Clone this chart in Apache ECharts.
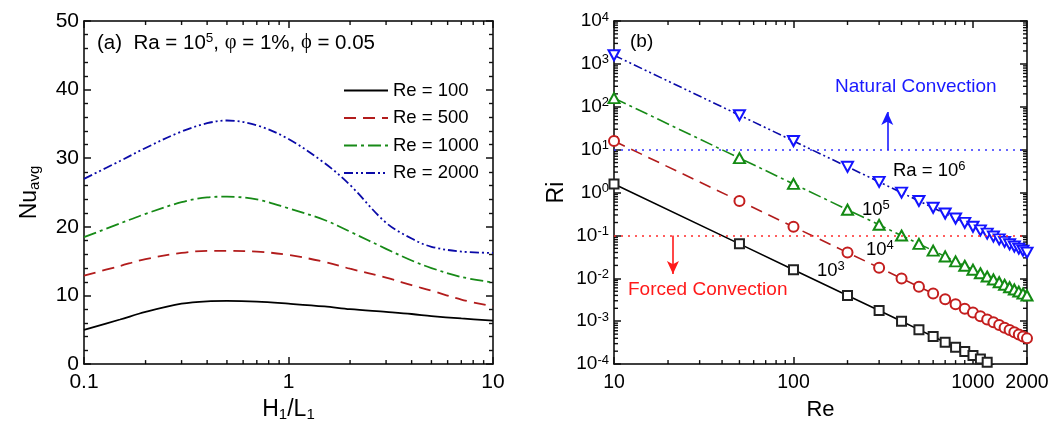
<!DOCTYPE html>
<html><head><meta charset="utf-8">
<script src="https://cdn.jsdelivr.net/npm/echarts@6/dist/echarts.min.js"></script>
<style>html,body{margin:0;padding:0;background:#fff}#c{width:1056px;height:427px}</style>
</head><body><div id="c"></div>
<script>
// ---------- Panel (a) data ----------
const ratioH1L1 = [0.1, 0.15, 0.2, 0.3, 0.4, 0.5, 0.7, 1, 1.5, 2, 3, 4, 5, 7, 10];
const nuRe100  = [5.0, 6.5, 7.6, 8.8, 9.15, 9.2, 9.1, 8.8, 8.4, 8.0, 7.6, 7.3, 7.0, 6.65, 6.35];
const nuRe500  = [12.9, 14.3, 15.3, 16.2, 16.5, 16.5, 16.4, 15.9, 14.9, 13.9, 12.6, 11.5, 10.7, 9.4, 8.4];
const nuRe1000 = [18.5, 20.5, 21.9, 23.6, 24.3, 24.4, 24.0, 22.7, 21.0, 19.3, 16.8, 15.1, 14.0, 12.7, 11.9];
const nuRe2000 = [27.0, 29.6, 31.5, 33.9, 35.1, 35.5, 34.8, 32.8, 29.3, 26.1, 20.6, 18.3, 17.1, 16.4, 16.2];
const legendNames = ['Re = 100', 'Re = 500', 'Re = 1000', 'Re = 2000'];

// ---------- Panel (b) data ----------
const reValues = [10, 50, 100, 200, 300, 400, 500, 600, 700, 800, 900, 1000, 1100, 1200, 1300, 1400, 1500, 1600, 1700, 1800, 1900, 2000];
const riRa1e3 = [1.59, 0.0636, 0.0159, 0.00398, 0.00177, 0.000994, 0.000636, 0.000442, 0.000324, 0.000248, 0.000196, 0.000159, 0.000131, 0.000110, 0.0000941, 0.0000811, 0.0000707, 0.0000621, 0.0000550, 0.0000491, 0.0000440, 0.0000398];
const riRa1e4 = [15.9, 0.636, 0.159, 0.0398, 0.0177, 0.00994, 0.00636, 0.00442, 0.00324, 0.00248, 0.00196, 0.00159, 0.00131, 0.00110, 0.000941, 0.000811, 0.000707, 0.000621, 0.000550, 0.000491, 0.000440, 0.000398];
const riRa1e5 = [159, 6.36, 1.59, 0.398, 0.177, 0.0994, 0.0636, 0.0442, 0.0324, 0.0248, 0.0196, 0.0159, 0.0131, 0.0110, 0.00941, 0.00811, 0.00707, 0.00621, 0.00550, 0.00491, 0.00440, 0.00398];
const riRa1e6 = [1590, 63.6, 15.9, 3.98, 1.77, 0.994, 0.636, 0.442, 0.324, 0.248, 0.196, 0.159, 0.131, 0.110, 0.0941, 0.0811, 0.0707, 0.0621, 0.0550, 0.0491, 0.0440, 0.0398];
const riThresholdNatural = 10;
const riThresholdForced = 0.1;
const arrowNatural = [[333, 10], [333, 76]];
const arrowForced = [[21.3, 0.1], [21.3, 0.0126]];

// ---------- tick labels ----------
const leftXTickLabels = [0.1, 1, 10];
const leftYTickLabels = [0, 10, 20, 30, 40, 50];
const rightXTickLabels = [10, 100, 1000, 2000];
const rightYTickExponents = [-4, -3, -2, -1, 0, 1, 2, 3, 4];
const minorLeftX = [0.2, 0.3, 0.4, 0.5, 0.6, 0.7, 0.8, 0.9, 2, 3, 4, 5, 6, 7, 8, 9];
const minorRightX = [20, 30, 40, 50, 60, 70, 80, 90, 200, 300, 400, 500, 600, 700, 800, 900];
const minorRightY = [];
rightYTickExponents.slice(0, -1).forEach(e => { for (let m = 2; m <= 9; m++) minorRightY.push(+(m * Math.pow(10, e)).toPrecision(3)); });

const FONT = '"Liberation Sans", Arial, sans-serif';
const SERIF = '"Liberation Serif", "DejaVu Serif", serif';
const chart = echarts.init(document.getElementById('c'));

const tickRich = {
  b: {fontSize: 19, lineHeight: 21, fontFamily: FONT, color: '#000'},
  s: {fontSize: 13, lineHeight: 13, verticalAlign: 'top', fontFamily: FONT, color: '#000'}
};

function axisCommon(extra) {
  return Object.assign({
    axisLine: {show: true, onZero: false, lineStyle: {color: '#000', width: 1.5}},
    axisTick: {show: true, inside: true, length: 7, lineStyle: {color: '#111', width: 1.5}},
    splitLine: {show: false},
    axisLabel: {color: '#000', fontSize: 19, fontFamily: FONT}
  }, extra);
}
function mirror(extra) {
  return axisCommon(Object.assign({axisLabel: {show: false}}, extra));
}
function fmtNum(v) { return String(+(+v).toPrecision(4)); }
const valueMinor = {show: true, splitNumber: 5, length: 4, lineStyle: {color: '#111', width: 1.4}};

const leftColors = ['#000000', '#b21c1c', '#178a17', '#0a0aa8'];
const leftDashes = ['solid', [12, 7], [13, 4, 3, 4], [9, 3, 2, 3, 2, 3]];
const leftData = [nuRe100, nuRe500, nuRe1000, nuRe2000];

const rightLineColors = ['#000000', '#b21c1c', '#178a17', '#0a0aa8'];
const rightMarkColors = ['#222222', '#c41e1e', '#138a13', '#1414ff'];
const rightData = [riRa1e3, riRa1e4, riRa1e5, riRa1e6];
const rightNames = ['Ra = 10^3', 'Ra = 10^4', 'Ra = 10^5', 'Ra = 10^6'];
const rightSymbols = ['emptyRect', 'emptyCircle', 'emptyTriangle', 'emptyTriangle'];
const rightSymbolSizes = [9, 10, [11, 10], [11, 10]];
const rightSymbolRotate = [0, 0, 0, 180];

const series = [];
leftData.forEach((arr, i) => {
  series.push({
    name: legendNames[i], type: 'line', xAxisIndex: 0, yAxisIndex: 0,
    data: ratioH1L1.map((x, j) => [x, arr[j]]),
    symbol: 'none', smooth: 0.35, z: 3,
    lineStyle: {color: leftColors[i], width: 1.8, type: leftDashes[i]},
    itemStyle: {color: leftColors[i]}
  });
});
rightData.forEach((arr, i) => {
  const s = {
    name: rightNames[i], type: 'line', xAxisIndex: 2, yAxisIndex: 2,
    data: reValues.map((r, j) => [r, arr[j]]),
    symbol: rightSymbols[i], symbolSize: rightSymbolSizes[i], symbolRotate: rightSymbolRotate[i],
    showAllSymbol: true, z: 3,
    lineStyle: {color: rightLineColors[i], width: 1.6, type: leftDashes[i]},
    itemStyle: {color: rightMarkColors[i], borderWidth: 1.2}
  };
  if (i === 0) {
    s.markLine = {
      silent: true, symbol: 'none', animation: false, label: {show: false},
      data: [
        {yAxis: riThresholdNatural, lineStyle: {color: '#3535ff', type: [2, 5], width: 1.6}},
        {yAxis: riThresholdForced, lineStyle: {color: '#ff2a2a', type: [2, 5], width: 1.6}},
        [{coord: arrowNatural[0], symbol: 'none', lineStyle: {color: '#1a1aff', type: 'solid', width: 1.6}},
         {coord: arrowNatural[1], symbol: 'arrow', symbolSize: [9, 13]}],
        [{coord: arrowForced[0], symbol: 'none', lineStyle: {color: '#ff1a1a', type: 'solid', width: 1.6}},
         {coord: arrowForced[1], symbol: 'arrow', symbolSize: [9, 13]}]
      ]
    };
  }
  series.push(s);
});

const subRich = {a: {fontSize: 23, lineHeight: 25, fontFamily: FONT, color: '#000'}, s: {fontSize: 15, lineHeight: 12, verticalAlign: 'bottom', fontFamily: FONT, color: '#000'}};

const option = {
  animation: false,
  backgroundColor: '#fff',
  grid: [
    {left: 84, right: 563, top: 21, bottom: 60, containLabel: false},
    {left: 614, right: 29, top: 21, bottom: 60, containLabel: false}
  ],
  xAxis: [
    axisCommon({gridIndex: 0, type: 'log', logBase: 10, min: leftXTickLabels[0], max: leftXTickLabels[2], position: 'bottom',
      axisLabel: {color: '#000', fontSize: 21, fontFamily: FONT, margin: 8, formatter: fmtNum},
      name: '{a|H}{s|1}{a|/L}{s|1}', nameLocation: 'middle', nameGap: 28,
      nameTextStyle: {rich: subRich}}),
    mirror({gridIndex: 0, type: 'log', logBase: 10, min: 0.1, max: 10, position: 'top'}),
    axisCommon({gridIndex: 1, type: 'log', logBase: 10, min: rightXTickLabels[0], max: rightXTickLabels[3], position: 'bottom',
      axisLabel: {color: '#000', fontSize: 19.5, fontFamily: FONT, margin: 9, formatter: fmtNum},
      name: 'Re', nameLocation: 'middle', nameGap: 27,
      nameTextStyle: {fontSize: 22, fontFamily: FONT, color: '#000', lineHeight: 24}}),
    mirror({gridIndex: 1, type: 'log', logBase: 10, min: 10, max: 2000, position: 'top'})
  ],
  yAxis: [
    axisCommon({gridIndex: 0, type: 'value', min: leftYTickLabels[0], max: leftYTickLabels[5], interval: 10, position: 'left',
      minorTick: valueMinor,
      axisLabel: {color: '#000', fontSize: 21, fontFamily: FONT, margin: 5},
      name: '{a|Nu}{s|avg}', nameLocation: 'middle', nameGap: 42,
      nameTextStyle: {rich: subRich}}),
    mirror({gridIndex: 0, type: 'value', min: 0, max: 50, interval: 10, position: 'right', minorTick: valueMinor}),
    axisCommon({gridIndex: 1, type: 'log', logBase: 10, min: 1e-4, max: 1e4, splitNumber: 8, position: 'left',
      axisLabel: {margin: 5, formatter: v => '{b|10}{s|' + Math.round(Math.log10(v)) + '}', rich: tickRich},
      name: 'Ri', nameLocation: 'middle', nameGap: 46,
      nameTextStyle: {fontSize: 23, fontFamily: FONT, color: '#000'}}),
    mirror({gridIndex: 1, type: 'log', logBase: 10, min: 1e-4, max: 1e4, splitNumber: 8, position: 'right'})
  ],
  legend: {
    data: legendNames, orient: 'vertical', left: 338, top: 76, itemWidth: 44, itemHeight: 14, itemGap: 8.5,
    itemStyle: {opacity: 0},
    textStyle: {fontSize: 18.5, fontFamily: FONT, color: '#000'}, selectedMode: false
  },
  series: series
};
chart.setOption(option);

// ---------- annotations ----------
const supR = {t: {fontSize: 18.5, lineHeight: 22, fontFamily: FONT, fill: '#000'}, s: {fontSize: 13, lineHeight: 13, verticalAlign: 'top', fontFamily: FONT, fill: '#000'}};
const graphics = [
  {id: 'ta', type: 'text', left: 97, top: 31, style: {
    text: '{t|(a)  Ra = 10}{s|5}{t|, }{g|φ}{t| = 1%, }{g|ϕ}{t| = 0.05}',
    rich: {t: {fontSize: 20.5, lineHeight: 24, fontFamily: FONT, fill: '#000'},
           s: {fontSize: 13.5, lineHeight: 13, verticalAlign: 'top', fontFamily: FONT, fill: '#000'},
           g: {fontSize: 20.5, lineHeight: 24, fontFamily: SERIF, fill: '#000'}}}},
  {id: 'tb', type: 'text', left: 630, top: 32, style: {text: '(b)', fontSize: 19, fontFamily: FONT, fill: '#000'}},
  {id: 'tn', type: 'text', left: 835, top: 77, style: {text: 'Natural Convection', fontSize: 19, fontFamily: FONT, fill: '#1a1aff'}},
  {id: 'tf', type: 'text', left: 628, top: 280, style: {text: 'Forced Convection', fontSize: 19, fontFamily: FONT, fill: '#ff1a1a'}},
  {id: 't6', type: 'text', left: 893, top: 160, style: {text: '{t|Ra = 10}{s|6}', rich: supR}},
  {id: 't5', type: 'text', left: 862, top: 199, style: {text: '{t|10}{s|5}', rich: supR}},
  {id: 't4', type: 'text', left: 866, top: 239, style: {text: '{t|10}{s|4}', rich: supR}},
  {id: 't3', type: 'text', left: 817, top: 260, style: {text: '{t|10}{s|3}', rich: supR}}
];

// ---------- minor ticks of the log axes (positions from the axes' own scales) ----------
let tid = 0;
function ticks(xi, yi, values, dir, len, ext) {
  values.forEach(v => {
    let lines;
    if (dir === 'x') {
      const x = chart.convertToPixel({xAxisIndex: xi}, v);
      const yb = chart.convertToPixel({yAxisIndex: yi}, ext[0]);
      const yt = chart.convertToPixel({yAxisIndex: yi}, ext[1]);
      lines = [[x, yb, x, yb - len], [x, yt, x, yt + len]];
    } else {
      const y = chart.convertToPixel({yAxisIndex: yi}, v);
      const xl = chart.convertToPixel({xAxisIndex: xi}, ext[0]);
      const xr = chart.convertToPixel({xAxisIndex: xi}, ext[1]);
      lines = [[xl, y, xl + len, y], [xr, y, xr - len, y]];
    }
    lines.forEach(l => graphics.push({
      id: 'tick' + (tid++), type: 'line',
      shape: {x1: l[0], y1: l[1], x2: l[2], y2: l[3]},
      style: {stroke: '#111', lineWidth: 1.4}
    }));
  });
}
ticks(0, 0, minorLeftX, 'x', 4, [0, 50]);
ticks(2, 2, minorRightX, 'x', 4, [1e-4, 1e4]);
ticks(2, 2, minorRightY, 'y', 4, [10, 2000]);

chart.setOption({graphic: graphics});
</script></body></html>
